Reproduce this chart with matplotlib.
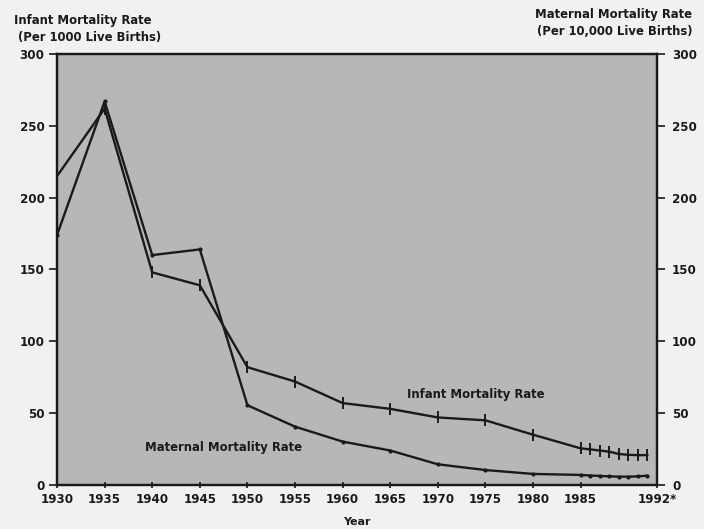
import matplotlib.pyplot as plt

# Infant mortality (per 1000 live births) and maternal mortality (per 10,000 live births)
years = [1930, 1935, 1940, 1945, 1950, 1955, 1960, 1965, 1970, 1975, 1980,
         1985, 1986, 1987, 1988, 1989, 1990, 1991, 1992]
infant = [215, 262, 148, 139, 82, 72, 57, 53, 47, 45, 35,
          25.5, 24.8, 24, 23.2, 21.6, 21, 20.8, 20.8]
maternal = [174, 267, 160, 164, 55.5, 40.6, 30.2, 24, 14.4, 10.4, 7.7,
            7, 6.6, 6.3, 6, 5.8, 5.8, 6, 6.5]

xtick_years = [1930, 1935, 1940, 1945, 1950, 1955, 1960, 1965, 1970, 1975, 1980, 1985, 1993]
xtick_labels = ['1930', '1935', '1940', '1945', '1950', '1955', '1960', '1965',
                '1970', '1975', '1980', '1985', '1992*']
yticks = [0, 50, 100, 150, 200, 250, 300]

ink = '#1a1a1a'
plt.rcParams['font.family'] = ['DejaVu Sans']
plt.rcParams['font.weight'] = 'bold'

fig = plt.figure(figsize=(7.04, 5.29), dpi=100, facecolor='#f1f1f1')
ax = fig.add_axes([0.081, 0.0832, 0.852, 0.8147], facecolor='#b7b7b7')

ax.plot(years, infant, color=ink, lw=1.7, marker='|', ms=9, mew=1.4)
ax.plot(years, maternal, color=ink, lw=1.7, marker='.', ms=4)

ax.set_xlim(1930, 1993)
ax.set_ylim(0, 300)
ax.set_xticks(xtick_years)
ax.set_xticklabels(xtick_labels)
ax.set_yticks(yticks)
ax.tick_params(axis='y', direction='out', length=6, width=1.2, colors=ink, labelsize=8.6, pad=3)
ax.tick_params(axis='x', direction='inout', length=5, width=1.2, colors=ink, labelsize=8.6, pad=3)
for s in ax.spines.values():
    s.set_color(ink)
    s.set_linewidth(1.6)

ax2 = ax.twinx()
ax2.set_ylim(0, 300)
ax2.set_yticks(yticks)
ax2.tick_params(axis='y', direction='out', length=6, width=1.2, colors=ink, labelsize=8.6, pad=5)
for s in ax2.spines.values():
    s.set_color(ink)
    s.set_linewidth(1.6)

ax.set_xlabel('Year', fontsize=8, fontweight='bold', color=ink, labelpad=8)

# axis titles
fig.text(0.02, 0.962, 'Infant Mortality Rate', fontsize=8.4, fontweight='bold', color=ink, ha='left', va='center')
fig.text(0.025, 0.93, '(Per 1000 Live Births)', fontsize=8.4, fontweight='bold', color=ink, ha='left', va='center')
fig.text(0.983, 0.973, 'Maternal Mortality Rate', fontsize=8.4, fontweight='bold', color=ink, ha='right', va='center')
fig.text(0.983, 0.94, '(Per 10,000 Live Births)', fontsize=8.4, fontweight='bold', color=ink, ha='right', va='center')

# in-plot series labels
ax.text(1974, 63, 'Infant Mortality Rate', fontsize=8.4, fontweight='bold', color=ink, ha='center', va='center')
ax.text(1947.5, 26, 'Maternal Mortality Rate', fontsize=8.4, fontweight='bold', color=ink, ha='center', va='center')

fig.savefig('out.png', dpi=100, facecolor=fig.get_facecolor())
